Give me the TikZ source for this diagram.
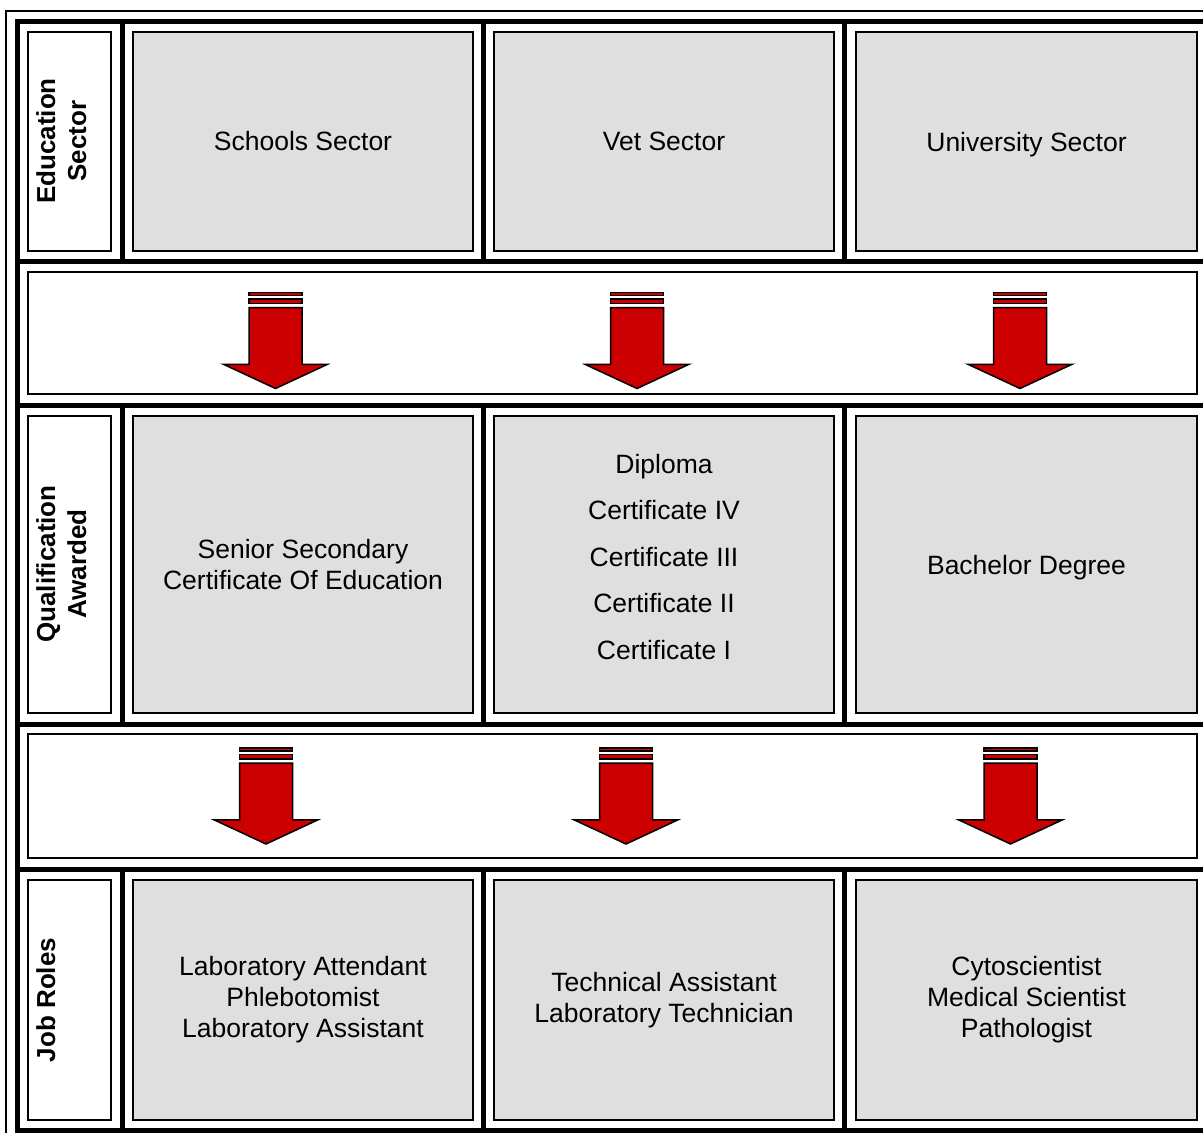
\documentclass[tikz,border=0pt]{standalone}
\usepackage{fontspec}
\setmainfont{Liberation Sans}
\definecolor{boxgray}{RGB}{223,223,223}
\definecolor{arrowred}{RGB}{204,0,0}
\begin{document}
\begin{tikzpicture}[x=1pt,y=-1pt,
  thinframe/.style={line width=2pt},
  heavy/.style={line width=5pt},
  cellbox/.style={draw, line width=2pt, inner sep=0pt, outer sep=0pt},
  gbox/.style={cellbox, fill=boxgray, align=center, font=\fontsize{26.5}{31}\selectfont},
  sidelabel/.style={rotate=90, anchor=north, inner sep=0pt, align=center, font=\fontsize{26}{31}\selectfont\bfseries},
  arrowline/.style={draw=black, line width=1.5pt, fill=arrowred, line join=miter},
  redarrow/.pic={
    \path[arrowline] (-26.5,0.5) rectangle (26.5,3.5);
    \path[arrowline] (-26.5,7) rectangle (26.5,11.5);
    \path[arrowline] (-26.5,15.5) -- (-26.5,72.3) -- (-52,72.3) -- (0,96.5) -- (52,72.3) -- (26.5,72.3) -- (26.5,15.5) -- cycle;
  }
]
\useasboundingbox (0,0) rectangle (1203,1133);
\clip (0,0) rectangle (1203,1133);
\fill[white] (0,0) rectangle (1203,1133);

% outer thin frame
\coordinate (thinTL) at (6.3,11);
\coordinate (thinTR) at (1215,11);
\coordinate (thinBL) at (6.3,1145);
\draw[thinframe] (thinBL) -- (thinTL) -- (thinTR);

% heavy frame and row separators
\draw[heavy] (17,21.5) rectangle (1207.5,1130.5);
\foreach \yy in {261,405.5,724.5,869.5}
  \draw[heavy] (17,\yy) -- (1207.5,\yy);
\foreach \xx in {122,483.5,844.5} {
  \draw[heavy] (\xx,21.5) -- (\xx,261);
  \draw[heavy] (\xx,405.5) -- (\xx,724.5);
  \draw[heavy] (\xx,869.5) -- (\xx,1130.5);
}

% row 1
\node[cellbox, minimum width=83, minimum height=219] (l1) at (69.5,141.5) {};
\node[sidelabel] (l1t) at (36,141) {Education\\Sector};
\node[gbox, minimum width=340, minimum height=219] (s1) at (303,141.5) {Schools Sector};
\node[gbox, minimum width=340, minimum height=219] (s2) at (664,141.5) {Vet Sector};
\node[gbox, minimum width=341, minimum height=219, text depth=0pt] (s3) at (1026.5,141.5) {University Sector};

% row 2 (arrows)
\node[cellbox, minimum width=1169, minimum height=122] (a1) at (612.5,333) {};
\pic at (275.5,292) {redarrow};
\pic at (637,292) {redarrow};
\pic at (1020,292) {redarrow};

% row 3
\node[cellbox, minimum width=83, minimum height=297] (l3) at (69.5,564.5) {};
\node[sidelabel] (l3t) at (36,564) {Qualification\\Awarded};
\node[gbox, minimum width=340, minimum height=297] (q1) at (303,564.5) {Senior Secondary\\Certificate Of Education};
\node[gbox, minimum width=340, minimum height=297] (q2) at (664,564.5) {};
\node[align=center, inner sep=0pt, font=\fontsize{26.5}{46.5}\selectfont] (q2t) at (664,557) {Diploma\\Certificate IV\\Certificate III\\Certificate II\\Certificate I};
\node[gbox, minimum width=341, minimum height=297, text depth=0pt] (q3) at (1026.5,564.5) {Bachelor Degree};

% row 4 (arrows)
\node[cellbox, minimum width=1169, minimum height=124] (a2) at (612.5,796) {};
\pic at (266,747.5) {redarrow};
\pic at (626,747.5) {redarrow};
\pic at (1010.5,747.5) {redarrow};

% row 5
\node[cellbox, minimum width=83, minimum height=240] (l5) at (69.5,1000) {};
\node[sidelabel] (l5t) at (36,1000) {Job Roles};
\node[gbox, minimum width=340, minimum height=240] (j1) at (303,1000) {Laboratory Attendant\\Phlebotomist\\Laboratory Assistant};
\node[gbox, minimum width=340, minimum height=240] (j2) at (664,1000) {Technical Assistant\\Laboratory Technician};
\node[gbox, minimum width=341, minimum height=240] (j3) at (1026.5,1000) {Cytoscientist\\Medical Scientist\\Pathologist};
\end{tikzpicture}
\end{document}
